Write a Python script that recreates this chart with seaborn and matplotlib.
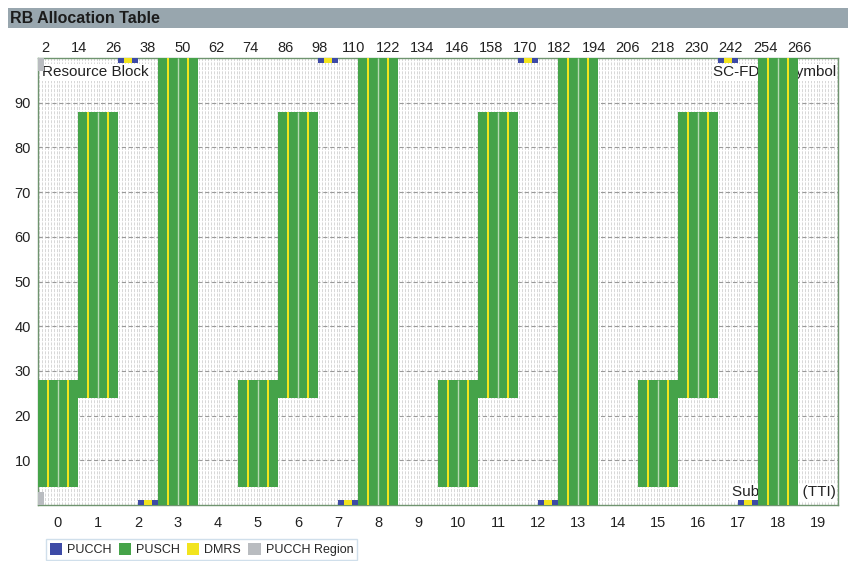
import matplotlib
matplotlib.use("Agg")
import numpy as np
import pandas as pd
import seaborn as sns
import matplotlib.pyplot as plt
from matplotlib.patches import Rectangle, Patch

sns.set_theme(style="white")
plt.rcParams["font.family"] = ["Liberation Sans", "DejaVu Sans"]
plt.rcParams["lines.scale_dashes"] = False

# ---------------- data ----------------
SYM_PER_SF = 14
N_SF = 20
N_RB = 100

subframes = list(range(20))
top_tick_symbols = [2, 14, 26, 38, 50, 62, 74, 86, 98, 110, 122, 134, 146,
                    158, 170, 182, 194, 206, 218, 230, 242, 254, 266]
y_ticks = [10, 20, 30, 40, 50, 60, 70, 80, 90]

pusch_sf = [0, 1, 3, 5, 6, 8, 10, 11, 13, 15, 16, 18]
pusch_rb_lo = [4, 24, 0, 4, 24, 0, 4, 24, 0, 4, 24, 0]
pusch_rb_hi = [28, 88, 100, 28, 88, 100, 28, 88, 100, 28, 88, 100]
pusch_dmrs_symbols = [3, 10]

pucch_sf = [2, 7, 12, 17]
pucch_slot0_rb = [99, 99, 99, 99]
pucch_slot1_rb = [0, 0, 0, 0]
pucch_dmrs_symbols = [2, 3, 4]

pucch_region_rb_lo = [0, 97]
pucch_region_rb_hi = [3, 100]

legend_labels = ["PUCCH", "PUSCH", "DMRS", "PUCCH Region"]

C_PUCCH = "#3d4aa6"
C_PUSCH = "#45a349"
C_DMRS = "#f2e41e"
C_REGION = "#b9bcc0"
C_SLOT = "#b7d9b3"

pusch = pd.DataFrame({"sf": pusch_sf, "lo": pusch_rb_lo, "hi": pusch_rb_hi})

# ---------------- figure ----------------
fig = plt.figure(figsize=(8.48, 5.61), dpi=100)
L, R, T, B = 38 / 848, 838 / 848, 1 - 58 / 561, 1 - 505 / 561
ax = fig.add_axes([L, B, R - L, T - B])
ax.set_xlim(0, N_SF * SYM_PER_SF)
ax.set_ylim(0, N_RB)
ax.set_facecolor("white")

# background texture: symbol grid
sym_x = np.arange(N_SF * SYM_PER_SF) + 0.5
ax.vlines(sym_x, 0, N_RB, colors="#cdcdcd", linewidth=0.55,
          linestyles=(0, (2.2, 1.0)), zorder=1)
ax.hlines(y_ticks, 0, N_SF * SYM_PER_SF, colors="#9a9a9a", linewidth=0.8,
          linestyles=(0, (3, 2)), zorder=1.2)

# labels inside plot
bbox = dict(facecolor="white", edgecolor="none", pad=1.0)
ax.text(1.5, 96.8, "Resource Block", ha="left", va="center", fontsize=11,
        color="#222222", bbox=bbox, zorder=2.5)
ax.text(279.3, 96.8, "SC-FDMA Symbol", ha="right", va="center", fontsize=11,
        color="#222222", bbox=bbox, zorder=2.5)
ax.text(279.3, 2.8, "Subframe (TTI)", ha="right", va="center", fontsize=11,
        color="#222222", bbox=bbox, zorder=2.5)

# PUCCH region (gray)
for lo, hi in zip(pucch_region_rb_lo, pucch_region_rb_hi):
    ax.bar(0, hi - lo, bottom=lo, width=2.2, align="edge", color=C_REGION,
           linewidth=0, zorder=3)

# PUSCH allocations
x0 = pusch["sf"] * SYM_PER_SF
ax.bar(x0, pusch["hi"] - pusch["lo"], bottom=pusch["lo"], width=SYM_PER_SF,
       align="edge", color=C_PUSCH, linewidth=0, zorder=3)
ax.vlines(x0 + 7, pusch["lo"], pusch["hi"], colors=C_SLOT, linewidth=1.0, zorder=3.5)
for s in pusch_dmrs_symbols:
    ax.bar(x0 + s + 0.5, pusch["hi"] - pusch["lo"], bottom=pusch["lo"], width=0.75,
           align="center", color=C_DMRS, linewidth=0, zorder=4)

# PUCCH
for sf, rb0, rb1 in zip(pucch_sf, pucch_slot0_rb, pucch_slot1_rb):
    for slot, rb in ((0, rb0), (1, rb1)):
        start = sf * SYM_PER_SF + slot * 7
        base = rb - 0.2 if rb > 50 else rb
        ax.bar(start, 1.2, bottom=base, width=7, align="edge",
               color=C_PUCCH, linewidth=0, zorder=3)
        ax.bar(start + pucch_dmrs_symbols[0], 1.2, bottom=base,
               width=len(pucch_dmrs_symbols), align="edge", color=C_DMRS,
               linewidth=0, zorder=4)

# axes styling
for sp in ax.spines.values():
    sp.set_color("#6f946f")
    sp.set_linewidth(1.0)
    sp.set_visible(True)

ax.set_xticks([sf * SYM_PER_SF + 7 for sf in subframes])
ax.set_xticklabels([str(s) for s in subframes], fontsize=10.5, color="#222222")
ax.set_yticks(y_ticks)
ax.set_yticklabels([str(v) for v in y_ticks], fontsize=10.5, color="#222222")
ax.tick_params(axis="x", length=0, pad=8)
ax.tick_params(axis="y", direction="in", length=3, width=0.8, color="#888888", pad=5,
               left=True)

ax2 = ax.twiny()
ax2.set_xlim(ax.get_xlim())
ax2.set_xticks([s + 0.5 for s in top_tick_symbols])
ax2.set_xticklabels([str(s) for s in top_tick_symbols], fontsize=10.5, color="#222222")
ax2.tick_params(axis="x", length=0, pad=2)
for sp in ax2.spines.values():
    sp.set_visible(False)

# title bar
fig.patches.append(Rectangle((8 / 848, 1 - 28 / 561), 840 / 848, 20 / 561,
                             transform=fig.transFigure, facecolor="#98a6ae",
                             edgecolor="none", zorder=0))
fig.text(10 / 848, 1 - 18.5 / 561, "RB Allocation Table", ha="left", va="center",
         fontsize=11.5, fontweight="bold", color="#1c1c1c")

# legend
handles = [Patch(facecolor=c, edgecolor="none") for c in (C_PUCCH, C_PUSCH, C_DMRS, C_REGION)]
leg = fig.legend(handles, legend_labels, loc="lower left",
                 bbox_to_anchor=(46 / 848, 1 / 561), ncol=4, frameon=True,
                 fancybox=False, fontsize=9, handlelength=1.0, handleheight=1.1,
                 handletextpad=0.4, columnspacing=0.55, borderpad=0.3,
                 borderaxespad=0)
leg.get_frame().set_edgecolor("#c5d8e6")
leg.get_frame().set_linewidth(1.0)

fig.savefig("out.png", dpi=100)
